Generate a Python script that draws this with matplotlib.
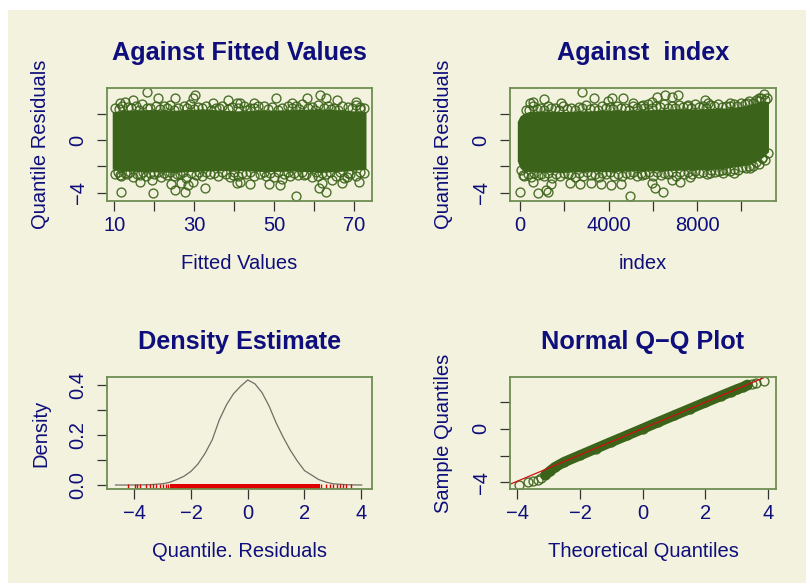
import matplotlib
matplotlib.use("Agg")
import matplotlib.pyplot as plt
from matplotlib.patches import Rectangle

plt.rcParams['font.family'] = ['Liberation Sans', 'DejaVu Sans']

# ---------------- data ----------------
# Panel 1: residuals against fitted values (dense core envelope + outlying circles)
fit_env_x = [9.5, 12, 18, 25, 32, 40, 48, 55, 62, 68, 72.9]
fit_env_hi = [2.1, 2.25, 2.3, 2.25, 2.35, 2.2, 2.25, 2.3, 2.35, 2.25, 2.1]
fit_env_lo = [-2.2, -2.35, -2.4, -2.45, -2.35, -2.3, -2.4, -2.35, -2.45, -2.35, -2.2]
fit_fringe_hi_x = [10.3, 12, 13.5, 15.5, 17, 19, 20.5, 22.5, 24, 26, 27.5, 29, 31, 33, 35.5, 37, 39.5,
                   42.5, 44, 46, 47.5, 49.5, 52, 53.5, 55.5, 57, 59.5, 61, 63.5, 65, 67, 68.5, 70.5, 72.3]
fit_fringe_hi_y = [2.45, 2.6, 2.5, 2.55, 2.7, 2.45, 2.6, 2.55, 2.65, 2.45, 2.6, 2.7, 2.5, 2.6, 2.45, 2.55, 2.5,
                   2.6, 2.45, 2.55, 2.6, 2.5, 2.45, 2.6, 2.55, 2.7, 2.5, 2.65, 2.6, 2.45, 2.6, 2.5, 2.65, 2.4]
fit_fringe2_hi_x = [11.2, 14.2, 16.2, 18.2, 21.5, 23.2, 25, 28.2, 30, 32, 34.2, 36.2, 38.5, 41, 43.2, 45,
                    48.5, 51, 54.5, 56.2, 58.5, 60.2, 62.3, 64.2, 66, 69.5, 71.5]
fit_fringe2_hi_y = [2.35, 2.4, 2.3, 2.45, 2.35, 2.4, 2.3, 2.45, 2.35, 2.4, 2.3, 2.4, 2.35, 2.45, 2.3, 2.4,
                    2.35, 2.3, 2.4, 2.35, 2.45, 2.3, 2.4, 2.35, 2.3, 2.4, 2.35]
fit_fringe_lo_x = [10.2, 11.8, 13.3, 14.8, 16.5, 18, 20, 21.8, 23.2, 25, 26.5, 28, 30.5, 32, 34, 36, 38, 39,
                   41, 43, 45, 46.5, 48, 50, 52.5, 54, 56, 58, 59.5, 61, 63, 65.5, 67.5, 69, 70.5, 72.4]
fit_fringe_lo_y = [-2.55, -2.75, -2.6, -2.8, -2.65, -2.7, -2.55, -2.8, -2.65, -2.75, -2.6, -2.85, -2.65, -2.7,
                   -2.55, -2.75, -2.6, -2.8, -2.7, -2.6, -2.75, -2.55, -2.7, -2.8, -2.6, -2.75, -2.65, -2.55,
                   -2.8, -2.7, -2.6, -2.75, -2.85, -2.6, -2.7, -2.5]
fit_fringe2_lo_x = [11, 12.6, 14, 15.7, 17.3, 19, 21, 22.5, 24, 25.8, 27.3, 29.3, 31.3, 33, 35, 37, 40,
                    42, 44, 47.3, 49, 51, 53.3, 55, 57, 60.3, 62, 64, 66.5, 68.3, 71.5]
fit_fringe2_lo_y = [-2.45, -2.5, -2.4, -2.55, -2.45, -2.5, -2.4, -2.5, -2.45, -2.55, -2.4, -2.5, -2.45,
                    -2.4, -2.5, -2.45, -2.4, -2.5, -2.45, -2.4, -2.5, -2.45, -2.4, -2.5, -2.45, -2.4, -2.5,
                    -2.45, -2.4, -2.5, -2.4]
fit_out_x = [18.3, 14.8, 11.4, 12.7, 21, 25.2, 30.2, 29.8, 34.8, 38.4, 40.6, 50.3, 58.2, 61.5, 62.8, 65.7,
             70.3, 44.8, 54.4, 41.5, 71.5,
             11.7, 19.8, 27.7, 32.7, 25.3, 24.2, 28.5, 29.8, 16.4, 19.4, 26.8, 40.6, 11.4, 39.7, 55.5, 48.6,
             51.4, 51.8, 62.8, 61.1, 61.9, 64.4, 66.9, 43.8, 41.5, 71.1, 68.2, 57.3]
fit_out_y = [3.66, 3.05, 2.78, 2.9, 3.16, 3.16, 3.4, 3.16, 2.78, 3.03, 2.78, 3.16, 3.16, 3.41, 3.16, 3.03,
             2.9, 2.78, 2.78, 2.78, 2.52,
             -3.91, -3.99, -3.91, -3.61, -3.79, -3.36, -3.41, -3.16, -3.16, -3.03, -3.28, -3.28, -2.65, -2.65,
             -4.24, -3.36, -3.41, -2.98, -3.91, -3.61, -3.28, -3.03, -3.28, -3.36, -3.16, -3.16, -2.78, -2.65]

# Panel 2: residuals against index
idx_env_x = [-120, 0, 150, 400, 1000, 2000, 3000, 4000, 5000, 6000, 7000, 8000, 9000, 9600, 10200, 10600,
             11000, 11220]
idx_env_hi = [1.4, 1.8, 2.0, 2.15, 2.2, 2.15, 2.2, 2.25, 2.25, 2.3, 2.35, 2.35, 2.4, 2.45, 2.6, 2.8, 2.95, 2.9]
idx_env_lo = [-1.6, -2.1, -2.35, -2.4, -2.45, -2.45, -2.4, -2.4, -2.35, -2.35, -2.3, -2.25, -2.2, -2.05, -1.9,
              -1.65, -1.25, -0.9]
idx_fringe_hi_x = [250, 600, 900, 1250, 1600, 1950, 2300, 2650, 3000, 3350, 3700, 4050, 4400, 4750, 5100,
                   5450, 5800, 6150, 6500, 6850, 7200, 7550, 7900, 8250, 8600, 8950, 9300, 9650, 10000,
                   10350, 10650, 10900, 11150]
idx_fringe_hi_y = [2.3, 2.6, 2.45, 2.55, 2.4, 2.6, 2.45, 2.5, 2.65, 2.45, 2.55, 2.5, 2.6, 2.45, 2.6, 2.55,
                   2.7, 2.6, 2.75, 2.55, 2.65, 2.6, 2.7, 2.55, 2.65, 2.7, 2.6, 2.75, 2.8, 2.95, 3.05, 3.2, 3.15]
idx_fringe2_hi_x = [420, 750, 1080, 1420, 1780, 2120, 2480, 2820, 3180, 3520, 3880, 4220, 4580, 4920, 5280,
                    5620, 5980, 6320, 6680, 7020, 7380, 7720, 8080, 8420, 8780, 9120, 9480, 9820, 10180,
                    10500, 10780, 11050]
idx_fringe2_hi_y = [2.25, 2.35, 2.3, 2.4, 2.3, 2.35, 2.3, 2.4, 2.35, 2.3, 2.4, 2.35, 2.4, 2.3, 2.4, 2.45,
                    2.4, 2.5, 2.4, 2.45, 2.5, 2.45, 2.5, 2.45, 2.55, 2.5, 2.55, 2.6, 2.7, 2.8, 2.95, 3.05]
idx_fringe_lo_x = [200, 500, 800, 1100, 1450, 1800, 2150, 2500, 2850, 3200, 3550, 3900, 4250, 4600, 4950,
                   5300, 5650, 6000, 6350, 6700, 7050, 7400, 7750, 8100, 8450, 8800, 9150, 9500, 9850,
                   10200, 10500, 10800, 11050]
idx_fringe_lo_y = [-2.7, -2.8, -2.65, -2.75, -2.85, -2.7, -2.6, -2.8, -2.7, -2.65, -2.8, -2.6, -2.7, -2.75,
                   -2.6, -2.7, -2.55, -2.7, -2.65, -2.6, -2.7, -2.55, -2.6, -2.5, -2.6, -2.45, -2.5, -2.35,
                   -2.3, -2.15, -2.0, -1.8, -1.5]
idx_fringe2_lo_x = [60, 350, 650, 950, 1280, 1620, 1980, 2320, 2680, 3020, 3380, 3720, 4080, 4420, 4780,
                    5120, 5480, 5820, 6180, 6520, 6880, 7220, 7580, 7920, 8280, 8620, 8980, 9320, 9680,
                    10020, 10350, 10650, 10950, 11180]
idx_fringe2_lo_y = [-2.3, -2.55, -2.5, -2.55, -2.5, -2.6, -2.5, -2.55, -2.5, -2.45, -2.55, -2.5, -2.45,
                    -2.55, -2.5, -2.45, -2.5, -2.4, -2.45, -2.5, -2.4, -2.45, -2.4, -2.35, -2.4, -2.3, -2.35,
                    -2.25, -2.2, -2.05, -1.95, -1.7, -1.4, -1.0]
idx_out_x = [2802, 1085, 588, 438, 3345, 4158, 4655, 1867, 3977, 5107, 6178, 6554, 6856, 7157, 8362, 8512,
             5951, 9492, 10245, 10998, 10772, 5574, 7608,
             10, 814, 1266, 1190, 1415, 4958, 2246, 2698, 3223, 3675, 4127, 4579, 588, 136, 6478, 6102, 5951,
             5500, 6856, 7232, 7684, 8588, 9116, 9642, 10395, 10923]
idx_out_y = [3.66, 3.1, 2.9, 2.78, 3.16, 3.16, 3.16, 2.78, 2.95, 2.78, 3.28, 3.41, 3.28, 3.41, 3.03, 2.78,
             2.9, 2.78, 2.78, 3.46, 3.16, 2.65, 2.65,
             -3.91, -3.99, -3.91, -3.79, -3.36, -4.24, -3.28, -3.36, -3.28, -3.36, -3.41, -3.36, -3.16, -2.65,
             -3.91, -3.61, -3.28, -2.65, -3.03, -3.2, -2.78, -2.52, -2.27, -2.52, -2.14, -1.39]

# Panel 3: density estimate and rug
dens_x = [-4.66, -4.0, -3.5, -3.0, -2.75, -2.5, -2.25, -2.0, -1.75, -1.5, -1.25, -1.0, -0.75, -0.5, -0.25,
          0.0, 0.25, 0.5, 0.75, 1.0, 1.25, 1.5, 1.75, 2.0, 2.25, 2.5, 2.75, 3.0, 3.5, 4.02]
dens_y = [0.0, 0.0, 0.001, 0.005, 0.011, 0.022, 0.035, 0.055, 0.085, 0.128, 0.182, 0.262, 0.322, 0.367,
          0.397, 0.422, 0.407, 0.372, 0.318, 0.250, 0.192, 0.140, 0.096, 0.058, 0.040, 0.022, 0.012, 0.005,
          0.001, 0.0]
rug_tail = [-4.22, -3.99, -3.89, -3.81, -3.58, -3.46, -3.34, -3.22, -3.1, -2.99, -2.87, -2.8,
            2.6, 2.77, 2.89, 3.01, 3.13, 3.24, 3.36, 3.48, 3.63]
rug_core = [-2.75, 2.55]

# Panel 4: normal Q-Q plot
qq_theo = [-3.93, -3.66, -3.50, -3.34, -3.24, -3.1, -2.95, -2.8, -2.5, -2.0, -1.5, -1.0, -0.5, 0.0, 0.5,
           1.0, 1.5, 2.0, 2.5, 2.8, 3.0, 3.2, 3.34, 3.5, 3.61, 3.87]
qq_samp = [-4.2, -3.95, -3.88, -3.83, -3.7, -3.45, -3.15, -2.87, -2.48, -1.98, -1.48, -0.98, -0.49, 0.01,
           0.51, 1.0, 1.49, 1.98, 2.47, 2.76, 2.95, 3.13, 3.3, 3.35, 3.43, 3.6]
qq_band_range = [-3.1, 3.34]
qq_intercept = 0.02
qq_slope = 0.985

# ---------------- styling ----------------
BG = '#F3F2DE'
PT = '#3B6319'
BOX = '#6E8E52'
TXT = '#0E0E7C'
TICK = '#333333'
TITLE_FS = 18.2
LAB_FS = 14.5

fig = plt.figure(figsize=(8.06, 5.83), dpi=100, facecolor='white')
fig.patches.append(Rectangle((8 / 806, 0), 1, 1 - 10 / 583, transform=fig.transFigure,
                             facecolor=BG, edgecolor='none', zorder=-10))

W, H = 806, 583


def rect(l, r, t, b):
    return [l / W, 1 - b / H, (r - l) / W, (b - t) / H]


ax1 = fig.add_axes(rect(107, 372, 88, 201))
ax2 = fig.add_axes(rect(510, 776, 88, 201))
ax3 = fig.add_axes(rect(107, 372, 377, 489))
ax4 = fig.add_axes(rect(510, 776, 377, 489))


def style(ax, title, xlabel, ylabel, xticks, xlabels, yticks, ylabels):
    ax.set_facecolor(BG)
    for s in ax.spines.values():
        s.set_color(BOX)
        s.set_linewidth(1.3)
        s.set_zorder(5)
    ax.set_title(title, fontsize=TITLE_FS, fontweight='bold', color=TXT, pad=20)
    ax.set_xticks(xticks)
    ax.set_xticklabels(xlabels)
    ax.set_yticks(yticks)
    ax.set_yticklabels(ylabels, rotation=90, va='center')
    ax.tick_params(direction='out', length=7, width=0.9, color=TICK, labelcolor=TXT,
                   labelsize=LAB_FS)
    ax.tick_params(axis='x', pad=4)
    ax.tick_params(axis='y', pad=7)
    ax.set_xlabel(xlabel, fontsize=LAB_FS, color=TXT)
    ax.set_ylabel(ylabel, fontsize=LAB_FS, color=TXT)
    ax.xaxis.set_label_coords(0.5, -0.47)
    ax.yaxis.set_label_coords(-0.215, 0.5)


def circles(ax, x, y):
    ax.plot(x, y, linestyle='none', marker='o', markersize=6.4, markerfacecolor='none',
            markeredgecolor=PT, markeredgewidth=1.0, alpha=0.9, zorder=3)


# Panel 1
ax1.fill_between(fit_env_x, fit_env_lo, fit_env_hi, color=PT, lw=0, zorder=2)
circles(ax1, fit_fringe_hi_x, fit_fringe_hi_y)
circles(ax1, fit_fringe2_hi_x, fit_fringe2_hi_y)
circles(ax1, fit_fringe_lo_x, fit_fringe_lo_y)
circles(ax1, fit_fringe2_lo_x, fit_fringe2_lo_y)
circles(ax1, fit_out_x, fit_out_y)
ax1.set_xlim(8.2, 74.4)
ax1.set_ylim(-4.62, 3.93)
style(ax1, 'Against Fitted Values', 'Fitted Values', 'Quantile Residuals',
      [10, 20, 30, 40, 50, 60, 70], ['10', '', '30', '', '50', '', '70'],
      [-4, -2, 0, 2], ['\u22124', '', '0', ''])

# Panel 2
ax2.fill_between(idx_env_x, idx_env_lo, idx_env_hi, color=PT, lw=0, zorder=2)
circles(ax2, idx_fringe_hi_x, idx_fringe_hi_y)
circles(ax2, idx_fringe2_hi_x, idx_fringe2_hi_y)
circles(ax2, idx_fringe_lo_x, idx_fringe_lo_y)
circles(ax2, idx_fringe2_lo_x, idx_fringe2_lo_y)
circles(ax2, idx_out_x, idx_out_y)
ax2.set_xlim(-450, 11560)
ax2.set_ylim(-4.62, 3.93)
style(ax2, 'Against  index', 'index', 'Quantile Residuals',
      [0, 2000, 4000, 6000, 8000, 10000], ['0', '', '4000', '', '8000', ''],
      [-4, -2, 0, 2], ['\u22124', '', '0', ''])

# Panel 3
ax3.plot(dens_x, dens_y, color='#6E6E66', lw=0.9, zorder=3)
xt = ax3.get_xaxis_transform()
ax3.vlines(rug_tail, 0, 0.045, transform=xt, colors='#E00000', lw=1.0, zorder=4)
ax3.fill_between(rug_core, 0, 0.045, transform=xt, color='#E00000', lw=0, zorder=4)
ax3.set_xlim(-4.96, 4.38)
ax3.set_ylim(-0.016, 0.434)
style(ax3, 'Density Estimate', 'Quantile. Residuals', 'Density',
      [-4, -2, 0, 2, 4], ['\u22124', '\u22122', '0', '2', '4'],
      [0.0, 0.1, 0.2, 0.3, 0.4], ['0.0', '', '0.2', '', '0.4'])

# Panel 4
band_t = [t for t in qq_theo if qq_band_range[0] <= t <= qq_band_range[1]]
band_s = [s for t, s in zip(qq_theo, qq_samp) if qq_band_range[0] <= t <= qq_band_range[1]]
ax4.plot(band_t, band_s, color=PT, lw=7.4, solid_capstyle='round', zorder=2)
circles(ax4, qq_theo, qq_samp)
ax4.axline((0, qq_intercept), slope=qq_slope, color='#D01010', lw=0.9, zorder=4)
ax4.set_xlim(-4.23, 4.25)
ax4.set_ylim(-4.5, 3.88)
style(ax4, 'Normal Q\u2212Q Plot', 'Theoretical Quantiles', 'Sample Quantiles',
      [-4, -2, 0, 2, 4], ['\u22124', '\u22122', '0', '2', '4'],
      [-4, -2, 0, 2], ['\u22124', '', '0', ''])

fig.savefig('out.png', dpi=100, facecolor=fig.get_facecolor())
